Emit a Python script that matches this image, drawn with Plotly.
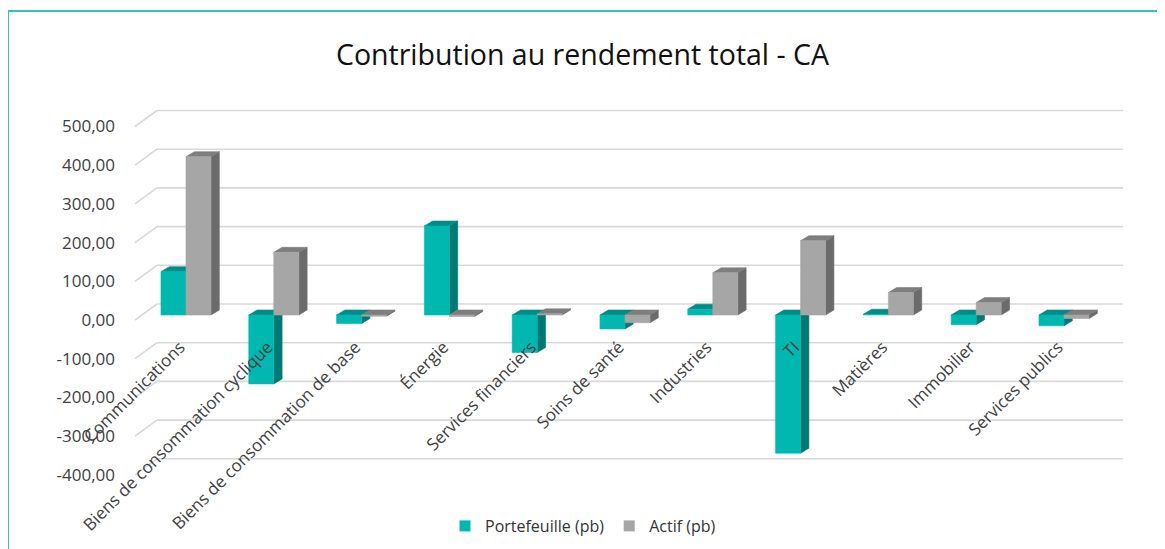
import plotly.graph_objects as go

# ---------------- data ----------------
categories = [
    "Communications",
    "Biens de consommation cyclique",
    "Biens de consommation de base",
    "Énergie",
    "Services financiers",
    "Soins de santé",
    "Industries",
    "TI",
    "Matières",
    "Immobilier",
    "Services publics",
]
portefeuille = [112, -178, -22, 230, -97, -36, 15, -357, 2, -25, -28]
actif = [409, 162, -3, -4, 3, -20, 109, 192, 58, 32, -9]
series_names = ["Portefeuille (pb)", "Actif (pb)"]
y_ticks = [-400, -300, -200, -100, 0, 100, 200, 300, 400, 500]
y_tick_labels = ["-400,00", "-300,00", "-200,00", "-100,00", "0,00",
                 "100,00", "200,00", "300,00", "400,00", "500,00"]
title_text = "Contribution au rendement total - CA"

# ---------------- styling ----------------
TEAL = ("#00B8B0", "#008C86", "#007873")   # front, top, side
GRAY = ("#A6A6A6", "#7E7E7E", "#6B6B6B")
W = 0.285      # bar width (category units)
DX = 0.0945    # depth offset x (category units)
DY = 12.9      # depth offset y (value units)
FONT = "Open Sans"

OFF = 8  # page body margin compensation
WIDTH, HEIGHT = 1165 - OFF, 549 - OFF
PLOT_L, PLOT_R, PLOT_T, PLOT_B = 135 - OFF, 1123 - OFF, 100 - OFF, 480 - OFF
L, R, T, B = PLOT_L, WIDTH - PLOT_R, PLOT_T, HEIGHT - PLOT_B
PW = PLOT_R - PLOT_L
PH = PLOT_B - PLOT_T


def faces(values, offset):
    out = {"front": ([], []), "top": ([], []), "side": ([], [])}
    for i, v in enumerate(values):
        xl = i + offset
        xr = xl + W
        lo, hi = min(v, 0), max(v, 0)
        polys = {
            "front": ([xl, xr, xr, xl, xl], [lo, lo, hi, hi, lo]),
            "top": ([xl, xr, xr + DX, xl + DX, xl], [hi, hi, hi + DY, hi + DY, hi]),
            "side": ([xr, xr, xr + DX, xr + DX, xr], [lo, hi, hi + DY, lo + DY, lo]),
        }
        for k, (px, py) in polys.items():
            out[k][0].extend(px + [None])
            out[k][1].extend(py + [None])
    return out


fig = go.Figure()

for values, offset, cols in [(portefeuille, -W, TEAL), (actif, 0.0, GRAY)]:
    f = faces(values, offset)
    for key, col in [("side", cols[2]), ("top", cols[1]), ("front", cols[0])]:
        fig.add_trace(go.Scatter(
            x=f[key][0], y=f[key][1], mode="lines", fill="toself",
            fillcolor=col, line=dict(color=col, width=0.6),
            hoverinfo="skip", showlegend=False,
        ))

# legend entries
for name, cols in zip(series_names, [TEAL, GRAY]):
    fig.add_trace(go.Scatter(
        x=[None], y=[None], mode="markers", name=name,
        marker=dict(symbol="square", size=11, color=cols[0]),
    ))

# back-wall gridlines + front diagonal segments
wall_x = 22 / PW
shapes = []
for v in y_ticks:
    shapes.append(dict(type="line", xref="paper", x0=wall_x, x1=1,
                       yref="y", ysizemode="pixel", yanchor=v, y0=11, y1=11,
                       line=dict(color="#D9D9D9", width=1.6), layer="below"))
    shapes.append(dict(type="line", xref="paper", x0=0, x1=wall_x,
                       yref="y", ysizemode="pixel", yanchor=v, y0=-5, y1=11,
                       line=dict(color="#D9D9D9", width=1.6), layer="below"))

# teal frame (left + top)
fx0 = (8 - OFF - L) / PW
fx1 = (WIDTH - L) / PW
fy_top = (PLOT_B - (11 - OFF)) / PH
fy_bot = (PLOT_B - HEIGHT) / PH
shapes.append(dict(type="path", xref="paper", yref="paper",
                   path=f"M {fx0} {fy_bot} L {fx0} {fy_top} L {fx1} {fy_top}",
                   line=dict(color="#35C2BC", width=2)))

# axis ranges derived from pixel scale (0 -> y=315 px, 38.7 px per 100)
px_per_unit = 0.387
zero_px = 315 - OFF
y_top = (zero_px - PLOT_T) / px_per_unit
y_bot = (zero_px - PLOT_B) / px_per_unit
cat_px = 87.8
first_center = 186 - OFF
x_left = (PLOT_L - first_center) / cat_px
x_right = (PLOT_R - first_center) / cat_px

fig.update_layout(
    width=WIDTH, height=HEIGHT,
    margin=dict(l=L, r=R, t=T, b=B, autoexpand=False),
    paper_bgcolor="white", plot_bgcolor="white",
    font=dict(family=FONT, color="#404040"),
    title=dict(text=title_text, x=(582.5 - OFF) / WIDTH, xanchor="center",
               y=1 - (55 - OFF) / HEIGHT, yanchor="middle",
               font=dict(family=FONT, size=28.5, color="#111111")),
    showlegend=True,
    legend=dict(orientation="h", x=(583 - OFF - L) / PW, xanchor="center",
                y=(PLOT_B - (526 - OFF)) / PH, yanchor="middle",
                font=dict(family=FONT, size=16, color="#333333"),
                itemwidth=30, tracegroupgap=0),
    shapes=shapes,
    xaxis=dict(range=[x_left, x_right], tickvals=list(range(len(categories))),
               ticktext=categories, tickangle=-45, showgrid=False, zeroline=False,
               showline=False, ticks="", anchor="free",
               position=(PLOT_B - (333 - OFF)) / PH, ticklabelshift=-6,
               tickfont=dict(family=FONT, size=17, color="#404040"),
               automargin=False, fixedrange=True),
    yaxis=dict(range=[y_bot, y_top], tickvals=y_ticks, ticktext=y_tick_labels,
               showgrid=False, zeroline=False, showline=False, ticks="",
               ticklabelshift=5, ticklabelstandoff=19,
               tickfont=dict(family=FONT, size=17, color="#404040"),
               automargin=False, fixedrange=True),
)

fig.write_html("out.html")
